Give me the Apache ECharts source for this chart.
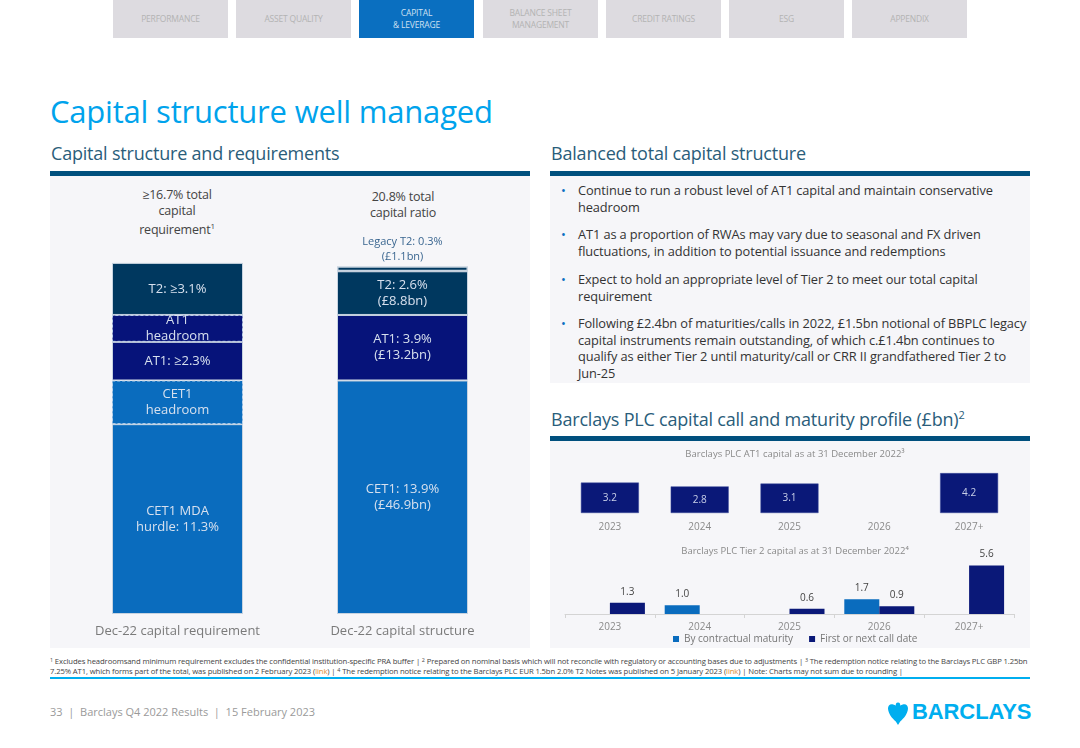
<!DOCTYPE html>
<html>
<head>
<meta charset="utf-8">
<script src="https://cdn.jsdelivr.net/npm/echarts/dist/echarts.min.js"></script>
<style>
  html, body { margin:0; padding:0; background:#fff; }
  body { width:1080px; height:748px; position:relative; overflow:hidden; font-family:"Open Sans", "DejaVu Sans", sans-serif; }
  .abs { position:absolute; }
  .tab { position:absolute; top:0; height:38px; width:115px; background:#dddbe0; color:#b3b3b3; font-size:8.5px; display:flex; align-items:center; justify-content:center; text-align:center; line-height:12px; letter-spacing:-0.2px; }
  .tab.active { background:#0a6fc0; color:#cfe0f2; }
  .title { left:50px; top:90px; font-size:31px; color:#00a3ec; letter-spacing:-0.2px; white-space:nowrap; }
  .sub { top:141px; font-size:18px; color:#2a5d7a; letter-spacing:-0.2px; white-space:nowrap; }
  .rule { height:5px; width:480px; background:#00507e; }
  .panel { background:#f6f6f9; }
  .bul { left:578px; font-size:12.8px; color:#333; line-height:16.5px; white-space:nowrap; letter-spacing:-0.1px; }
  .bul:before { content:"•"; color:#0a6fc0; position:absolute; left:-17px; top:0; }
  .topnote { font-size:12.5px; color:#444; text-align:center; line-height:15.5px; white-space:nowrap; letter-spacing:-0.2px; }
  .foot { left:50px; top:656px; font-size:7.7px; color:#444; line-height:10px; white-space:nowrap; letter-spacing:-0.12px; }
  .foot sup { font-size:70%; line-height:0; vertical-align:baseline; position:relative; top:-0.45em; }
  .foot .lnk { color:#e08a2a; }
  #chart { position:absolute; left:0; top:0; width:1080px; height:748px; }
</style>
</head>
<body>
  <div class="tab" style="left:113px">PERFORMANCE</div>
  <div class="tab" style="left:236px">ASSET QUALITY</div>
  <div class="tab active" style="left:359px">CAPITAL<br>&amp; LEVERAGE</div>
  <div class="tab" style="left:483px">BALANCE SHEET<br>MANAGEMENT</div>
  <div class="tab" style="left:606px">CREDIT RATINGS</div>
  <div class="tab" style="left:729px">ESG</div>
  <div class="tab" style="left:852px">APPENDIX</div>

  <div class="abs title">Capital structure well managed</div>

  <div class="abs sub" style="left:51px">Capital structure and requirements</div>
  <div class="abs sub" style="left:551px">Balanced total capital structure</div>
  <div class="abs sub" style="left:551px; top:407px">Barclays PLC capital call and maturity profile (£bn)<sup style="font-size:11px">2</sup></div>

  <div class="abs rule" style="left:50px; top:171px"></div>
  <div class="abs rule" style="left:550px; top:171px"></div>
  <div class="abs rule" style="left:550px; top:436px"></div>

  <div class="abs panel" style="left:50px; top:176px; width:480px; height:472px"></div>
  <div class="abs panel" style="left:550px; top:176px; width:480px; height:207px"></div>
  <div class="abs panel" style="left:550px; top:441px; width:480px; height:207px"></div>

  <div class="abs bul" style="top:182px">Continue to run a robust level of AT1 capital and maintain conservative<br>headroom</div>
  <div class="abs bul" style="top:226px">AT1 as a proportion of RWAs may vary due to seasonal and FX driven<br>fluctuations, in addition to potential issuance and redemptions</div>
  <div class="abs bul" style="top:271px">Expect to hold an appropriate level of Tier 2 to meet our total capital<br>requirement</div>
  <div class="abs bul" style="top:315px">Following £2.4bn of maturities/calls in 2022, £1.5bn notional of BBPLC legacy<br>capital instruments remain outstanding, of which c.£1.4bn continues to<br>qualify as either Tier 2 until maturity/call or CRR II grandfathered Tier 2 to<br>Jun-25</div>

  <div class="abs topnote" style="left:97px; width:160px; top:187px">≥16.7% total<br>capital<br>requirement<sup style="font-size:8px">1</sup></div>
  <div class="abs topnote" style="left:323px; width:160px; top:189px">20.8% total<br>capital ratio</div>

  <div class="abs foot"><sup>1</sup> Excludes headroomsand minimum requirement excludes the confidential institution-specific PRA buffer | <sup>2</sup> Prepared on nominal basis which will not reconcile with regulatory or accounting bases due to adjustments | <sup>3</sup> The redemption notice relating to the Barclays PLC GBP 1.25bn<br>7.25% AT1, which forms part of the total, was published on 2 February 2023 (<span class="lnk">link</span>) | <sup>4</sup> The redemption notice relating to the Barclays PLC EUR 1.5bn 2.0% T2 Notes was published on 5 January 2023 (<span class="lnk">link</span>) | Note: Charts may not sum due to rounding |</div>
  <div class="abs" style="left:50px; top:677px; width:980px; height:1.5px; background:#00aeef"></div>

  <div class="abs" style="left:50px; top:704px; font-size:11px; color:#9a9a9a; white-space:nowrap">33 &nbsp;|&nbsp; Barclays Q4 2022 Results &nbsp;|&nbsp; 15 February 2023</div>

  <svg class="abs" style="left:887px; top:701px" width="22" height="25" viewBox="0 0 22 25">
    <path d="M11 1.5 C9.2 1.5 8.3 3.2 9 4.6 L6.2 3.6 C3.2 2.6 0.8 4.6 1 7.8 C1.6 13 5 17.4 8.8 20.4 L11 24 L13.2 20.4 C17 17.4 20.4 13 21 7.8 C21.2 4.6 18.8 2.6 15.8 3.6 L13 4.6 C13.7 3.2 12.8 1.5 11 1.5 Z" fill="#00aeef"/>
  </svg>
  <div class="abs" style="left:912px; top:699px; font-family:'Liberation Sans', Arial, sans-serif; font-weight:bold; font-size:22px; color:#00aeef; letter-spacing:-0.1px">BARCLAYS</div>

  <div id="chart"></div>

<script>
// ---- Capital structure (%) ----
const structCats = ['Dec-22 capital requirement', 'Dec-22 capital structure'];
const cet1Base     = [11.3, 13.9];
const cet1Headroom = [2.6, null];
const at1Part      = [2.3, 3.9];
const at1Headroom  = [1.6, null];
const t2Part       = [3.1, 2.6];
const legacyT2     = [null, 0.3];

const cet1BaseLabels     = ['CET1 MDA\nhurdle: 11.3%', 'CET1: 13.9%\n(£46.9bn)'];
const cet1HeadroomLabels = ['CET1\nheadroom', ''];
const at1Labels          = ['AT1: ≥2.3%', 'AT1: 3.9%\n(£13.2bn)'];
const at1HeadroomLabels  = ['AT1\nheadroom', ''];
const t2Labels           = ['T2: ≥3.1%', 'T2: 2.6%\n(£8.8bn)'];
const legacyLabels       = ['', 'Legacy T2: 0.3%\n(£1.1bn)'];

// ---- Call and maturity profile (£bn) ----
const years = ['2023', '2024', '2025', '2026', '2027+'];
const at1Profile      = [3.2, 2.8, 3.1, null, 4.2];
const t2Contractual   = [null, 1.0, null, 1.7, null];
const t2CallDate      = [1.3, null, 0.6, 0.9, 5.6];

const C_CET1 = '#0a6cbe', C_AT1 = '#06137a', C_T2 = '#00385f';
const FONT = '"Open Sans", "DejaVu Sans", sans-serif';

function items(values, labels, dashed) {
  return values.map((v, i) => ({
    value: v,
    label: { formatter: labels[i] },
    itemStyle: dashed
      ? { borderColor: '#bcd2ea', borderWidth: 1, borderType: [3, 2] }
      : { borderColor: '#c7d3e0', borderWidth: 1 }
  }));
}

const inLabel = { show: true, position: 'inside', color: '#d7e0ee', fontSize: 13, lineHeight: 16, fontFamily: FONT };
const valFmt = p => p.value == null ? '' : Number(p.value).toFixed(1);

const chart = echarts.init(document.getElementById('chart'), null, { renderer: 'canvas' });
chart.setOption({
  animation: false,
  backgroundColor: 'transparent',
  textStyle: { fontFamily: FONT },
  title: [
    { text: 'Barclays PLC AT1 capital as at 31 December 2022³', left: 790, top: 444, textAlign: 'center',
      textStyle: { fontSize: 9.5, fontWeight: 'normal', color: '#8a8a8a', fontFamily: FONT } },
    { text: 'Barclays PLC Tier 2 capital as at 31 December 2022⁴', left: 790, top: 541, textAlign: 'center',
      textStyle: { fontSize: 9.5, fontWeight: 'normal', color: '#8a8a8a', fontFamily: FONT } }
  ],
  legend: {
    data: ['By contractual maturity', 'First or next call date'],
    left: 668, top: 629, icon: 'rect', itemWidth: 6, itemHeight: 6, itemGap: 16,
    textStyle: { fontSize: 10, color: '#777', fontFamily: FONT }
  },
  grid: [
    { left: 65, width: 450, top: 244.4, height: 369.6 },
    { left: 565, width: 449, top: 465.5, height: 47.5 },
    { left: 565, width: 449, top: 562, height: 52 }
  ],
  xAxis: [
    { type: 'category', gridIndex: 0, data: structCats, axisLine: { show: false }, axisTick: { show: false },
      axisLabel: { color: '#7a7a7a', fontSize: 13, margin: 11, fontFamily: FONT } },
    { type: 'category', gridIndex: 1, data: years, axisLine: { show: false }, axisTick: { show: false },
      axisLabel: { color: '#8a8a8a', fontSize: 10, margin: 9, fontFamily: FONT } },
    { type: 'category', gridIndex: 2, data: years, axisLine: { show: true, lineStyle: { color: '#d4d4d4' } },
      axisTick: { show: true, length: 4, lineStyle: { color: '#d4d4d4' } },
      axisLabel: { color: '#8a8a8a', fontSize: 10, margin: 8, fontFamily: FONT } }
  ],
  yAxis: [
    { type: 'value', gridIndex: 0, min: 0, max: 22, show: false },
    { type: 'value', gridIndex: 1, min: 0, max: 5, show: false },
    { type: 'value', gridIndex: 2, min: 0, max: 6, show: false }
  ],
  series: [
    { name: 'CET1', type: 'bar', stack: 'cap', xAxisIndex: 0, yAxisIndex: 0, barWidth: 131,
      itemStyle: { color: C_CET1 }, label: inLabel, data: items(cet1Base, cet1BaseLabels, false) },
    { name: 'CET1 headroom', type: 'bar', stack: 'cap', xAxisIndex: 0, yAxisIndex: 0, barWidth: 131,
      itemStyle: { color: C_CET1 }, label: inLabel, data: items(cet1Headroom, cet1HeadroomLabels, true) },
    { name: 'AT1', type: 'bar', stack: 'cap', xAxisIndex: 0, yAxisIndex: 0, barWidth: 131,
      itemStyle: { color: C_AT1 }, label: inLabel, data: items(at1Part, at1Labels, false) },
    { name: 'AT1 headroom', type: 'bar', stack: 'cap', xAxisIndex: 0, yAxisIndex: 0, barWidth: 131,
      itemStyle: { color: C_AT1 }, label: inLabel, data: items(at1Headroom, at1HeadroomLabels, true) },
    { name: 'T2', type: 'bar', stack: 'cap', xAxisIndex: 0, yAxisIndex: 0, barWidth: 131,
      itemStyle: { color: C_T2 }, label: inLabel, data: items(t2Part, t2Labels, false) },
    { name: 'Legacy T2', type: 'bar', stack: 'cap', xAxisIndex: 0, yAxisIndex: 0, barWidth: 131,
      itemStyle: { color: C_T2 },
      label: { show: true, position: 'top', distance: 2, color: '#3a6690', fontSize: 11, lineHeight: 15, fontFamily: FONT },
      data: legacyT2.map((v, i) => ({ value: v, label: { formatter: legacyLabels[i] },
        itemStyle: { borderColor: '#c7d3e0', borderWidth: 1.5 } })) },

    { name: 'AT1 capital', type: 'bar', xAxisIndex: 1, yAxisIndex: 1, barWidth: 58,
      itemStyle: { color: '#0a1878', borderColor: '#3a4a9a', borderWidth: 0.5 },
      label: { show: true, position: 'inside', color: '#c9d0e8', fontSize: 10, fontFamily: FONT },
      data: at1Profile },

    { name: 'By contractual maturity', type: 'bar', xAxisIndex: 2, yAxisIndex: 2, barWidth: 35, barGap: '0%',
      itemStyle: { color: '#0a6cbe' },
      label: { show: true, position: 'top', distance: 6, color: '#444', fontSize: 10, fontFamily: FONT, formatter: valFmt },
      data: t2Contractual },
    { name: 'First or next call date', type: 'bar', xAxisIndex: 2, yAxisIndex: 2, barWidth: 35, barGap: '0%',
      itemStyle: { color: '#0a1878' },
      label: { show: true, position: 'top', distance: 6, color: '#444', fontSize: 10, fontFamily: FONT, formatter: valFmt },
      data: t2CallDate }
  ]
});
</script>
</body>
</html>
